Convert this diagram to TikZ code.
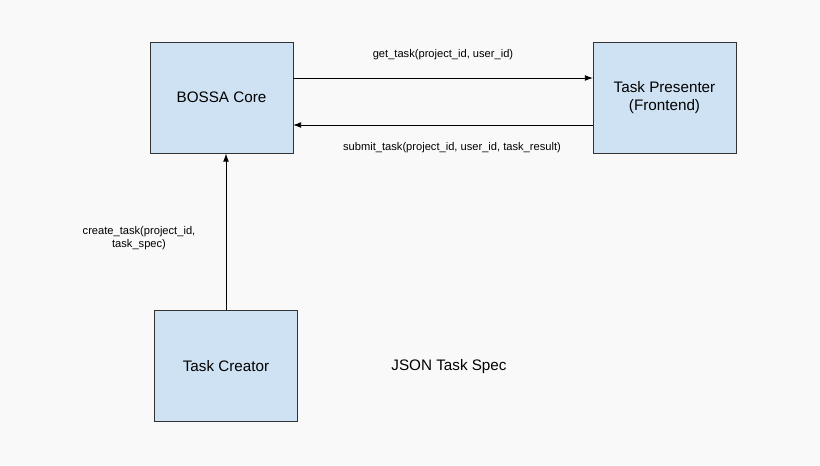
\documentclass[tikz,border=0pt]{standalone}
\usepackage{fontspec}
\setmainfont{Liberation Sans}
\usetikzlibrary{arrows.meta}
\begin{document}
\begin{tikzpicture}[x=0.03cm,y=-0.03cm,
    box/.style={draw=black!80, fill={rgb,255:red,207;green,226;blue,243}, line width=0.8pt, minimum width=143*0.03cm, minimum height=111*0.03cm, align=center, font=\fontsize{13}{15.5}\selectfont},
    lbl/.style={font=\fontsize{9.5}{11}\selectfont, align=center},
    arr/.style={-{Latex[length=7pt,width=5pt]}, line width=0.8pt}]
    % Background
    \fill[gray!5] (0,0) rectangle (820,465);
    \useasboundingbox (0,0) rectangle (820,465);

    % Boxes
    \node[box] (core) at (221.5,97.5) {BOSSA Core};
    \node[box] (presenter) at (664.5,97.5) {Task Presenter\\(Frontend)};
    \node[box] (creator) at (226,366) {Task Creator};

    % Connectors
    \coordinate (c1) at (293,78);
    \coordinate (p1) at (593,78);
    \coordinate (c2) at (293,125);
    \coordinate (p2) at (593,125);
    \draw[arr] (c1) -- (p1) node[lbl, midway, above=12pt] {get\_task(project\_id, user\_id)};
    \draw[arr] (p2) -- (c2) node[lbl, pos=0.47, below=11pt] {submit\_task(project\_id, user\_id, task\_result)};
    \draw[arr] (creator.north) -- (core.south -| creator.north);

    % Other labels
    \node[lbl] (ctask) at (139,238) {create\_task(project\_id,\\task\_spec)};
    \node[font=\fontsize{13}{15.5}\selectfont] (spec) at (449,367) {JSON Task Spec};
\end{tikzpicture}
\end{document}
